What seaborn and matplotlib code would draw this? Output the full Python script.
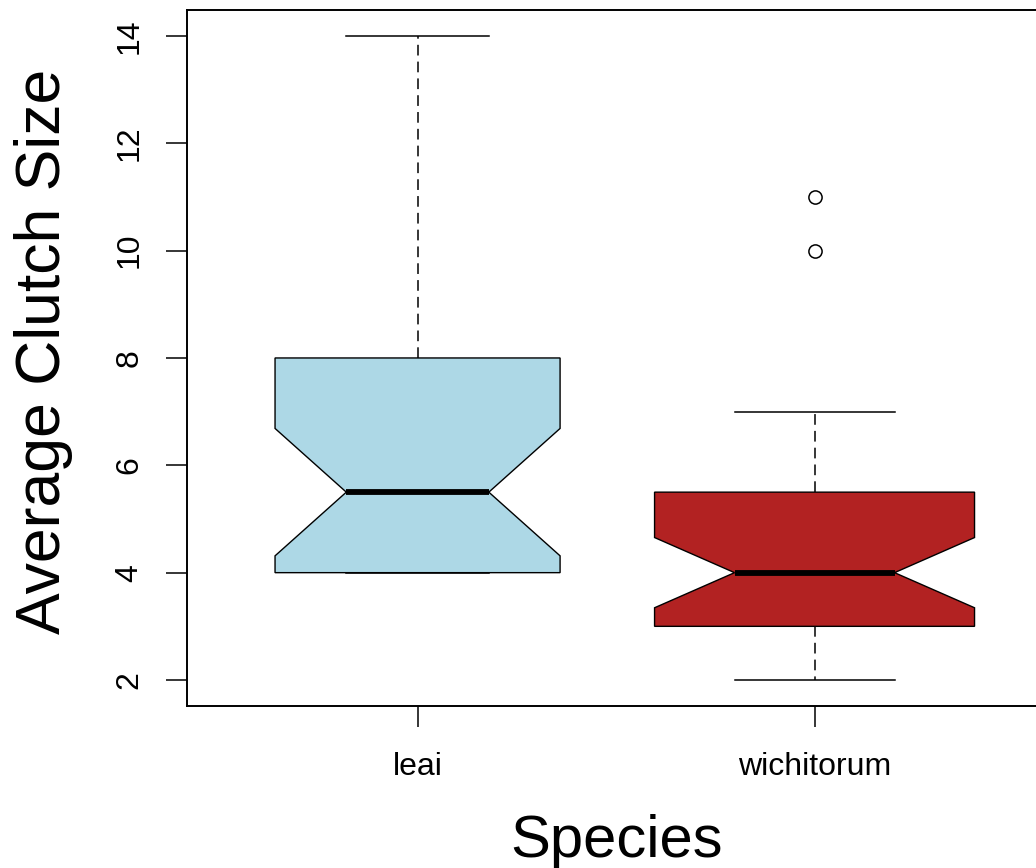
import matplotlib
matplotlib.use("Agg")
import matplotlib.pyplot as plt
import seaborn as sns
import pandas as pd

# Data (average clutch size per female)
species = ["leai", "wichitorum"]
leai_values = [4, 4, 4, 4, 4, 4, 4, 4, 4.5, 4.5, 5, 5, 5.5, 5.5,
               5.5, 6, 6.5, 7, 7, 7.5, 8, 8, 9, 10, 10.5, 11, 12, 14]
wichitorum_values = [2, 2, 2.5, 2.5, 3, 3, 3, 3, 3, 3, 3, 3.5, 3.5, 3.5,
                     4, 4, 4, 4, 4, 4, 4.5, 4.5, 5, 5, 5, 5.5, 5.5, 5.5,
                     6, 6, 6.5, 6.5, 7, 7, 10, 11]
box_colors = ["#ADD8E6", "#B22222"]
box_widths = [0.718, 0.806]   # varwidth (proportional to sqrt(n))
y_ticks = [2, 4, 6, 8, 10, 12, 14]

df = pd.DataFrame({
    "Species": ["leai"] * len(leai_values) + ["wichitorum"] * len(wichitorum_values),
    "Clutch": leai_values + wichitorum_values,
})

plt.rcParams['font.family'] = ['Liberation Sans', 'DejaVu Sans']

fig = plt.figure(figsize=(10.36, 8.68), dpi=100)
ax = fig.add_axes([0.1808, 0.1869, 0.8277, 0.8014])

for sp, col, w in zip(species, box_colors, box_widths):
    sns.boxplot(
        data=df[df["Species"] == sp], x="Species", y="Clutch", order=species,
        color=col, width=w, linecolor="black", linewidth=1.0,
        notch=True, ax=ax, saturation=1,
        medianprops={"linewidth": 4.2, "color": "black"},
        whiskerprops={"linestyle": (0, (7, 4)), "linewidth": 1.1, "color": "black"},
        capprops={"linewidth": 1.1, "color": "black"},
        flierprops={"marker": "o", "markerfacecolor": "none",
                    "markeredgecolor": "black", "markersize": 9.5,
                    "markeredgewidth": 1.1},
    )

ax.set_xlim(-0.58, 1.58)
ax.set_ylim(1.52, 14.48)
ax.set_yticks(y_ticks)
ax.set_yticklabels([str(t) for t in y_ticks], rotation=90, va="center")
ax.set_xticks([0, 1])
ax.set_xticklabels(species)

for s in ax.spines.values():
    s.set_visible(True)
    s.set_linewidth(1.4)
    s.set_color("black")

ax.tick_params(axis="both", length=15, width=1.1, direction="out",
               labelsize=23, colors="black")
ax.tick_params(axis="x", pad=18)
ax.tick_params(axis="y", pad=16)
ax.grid(False)

ax.set_xlabel("Species", fontsize=43)
ax.set_ylabel("Average Clutch Size", fontsize=45)
ax.xaxis.set_label_coords(0.5, -0.155)
ax.yaxis.set_label_coords(-0.133, 0.51)

fig.savefig("out.png", dpi=100)
